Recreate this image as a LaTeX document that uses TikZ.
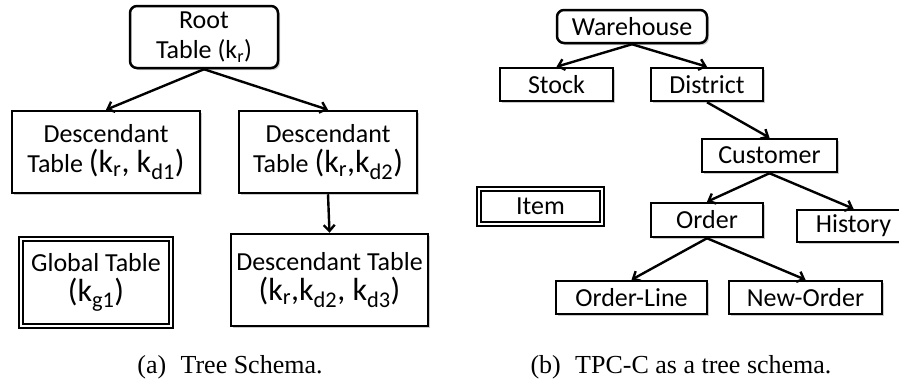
\documentclass[tikz,border=0pt]{standalone}
\usepackage{fontspec}
\setmainfont{Carlito}
\newfontfamily\capfont{Liberation Serif}
\usetikzlibrary{arrows.meta,positioning,shadows}
\definecolor{ink}{HTML}{000000}
\definecolor{shade}{HTML}{8C8C8C}

\begin{document}
\begin{tikzpicture}[
  x=1pt,y=-1pt,
  font=\fontsize{26}{30}\selectfont,
  tbl/.style={draw=ink,line width=2.5pt,fill=white,inner sep=0pt,align=center,
              drop shadow={shadow xshift=2pt,shadow yshift=-2pt,fill=shade,opacity=0.45}},
  roottbl/.style={tbl,rounded corners=7pt},
  globtbl/.style={tbl,double=white,double distance=2.4pt,line width=1.4pt},
  link/.style={-{Straight Barb[length=6pt,width=11pt]},line width=2.4pt,draw=ink},
  capt/.style={font=\capfont\fontsize{26}{30}\selectfont},
]
\useasboundingbox (0,0) rectangle (899,386);
\clip (0,0) rectangle (899,386);

% (a) generic tree schema
\node[roottbl,minimum width=148,minimum height=62] (root) at (204,37)
  {Root\\Table (k\textsubscript{r})};
\node[tbl,minimum width=188,minimum height=82] (desc1) at (106,152)
  {Descendant\\Table {\fontsize{32}{34}\selectfont(k\textsubscript{r}, k\textsubscript{d1})}};
\node[tbl,minimum width=178,minimum height=82] (desc2) at (328,152)
  {Descendant\\Table {\fontsize{32}{34}\selectfont(k\textsubscript{r},k\textsubscript{d2})}};
\node[tbl,minimum width=197,minimum height=92] (desc3) at (329.5,280)
  {Descendant Table\\{\fontsize{32}{36}\selectfont(k\textsubscript{r},k\textsubscript{d2}, k\textsubscript{d3})}};
\node[globtbl,minimum width=150,minimum height=87] (glob) at (96,282.5)
  {Global Table\\{\fontsize{32}{36}\selectfont(k\textsubscript{g1})}};

\draw[link] (root.south) -- (desc1.north);
\draw[link] (root.south) -- (desc2.north);
\draw[link] (desc2.south) -- (desc3.north);

\node[capt] (capa) at (230,367) {(a)\hspace{0.55em}Tree Schema.};

% (b) TPC-C tables
\node[roottbl,minimum width=150,minimum height=33] (wh) at (632,26.5) {Warehouse};
\node[tbl,minimum width=113,minimum height=33] (stock) at (556.5,84.5) {Stock};
\node[tbl,minimum width=112,minimum height=33] (dist) at (707,84.5) {District};
\node[tbl,minimum width=135,minimum height=33] (cust) at (769.5,155.5) {Customer};
\node[globtbl,minimum width=123,minimum height=35] (item) at (540.5,206.5) {Item};
\node[tbl,minimum width=112,minimum height=34] (ord) at (707,220) {Order};
\node[tbl,minimum width=113,minimum height=32] (hist) at (853.5,226) {History};
\node[tbl,minimum width=151,minimum height=33] (oline) at (631.5,297.5) {Order-Line};
\node[tbl,minimum width=153,minimum height=33] (neword) at (805.5,297.5) {New-Order};

\draw[link] (wh.south) -- (stock.north);
\draw[link] (wh.south) -- (dist.north);
\draw[link] (dist.south) -- (cust.north);
\draw[link] (cust.south) -- (ord.north);
\draw[link] (cust.south) -- (hist.north);
\draw[link] (ord.south) -- (oline.north);
\draw[link] (ord.south) -- (neword.north);

\node[capt] (capb) at (681,367) {(b)\hspace{0.55em}TPC-C as a tree schema.};

\end{tikzpicture}
\end{document}
